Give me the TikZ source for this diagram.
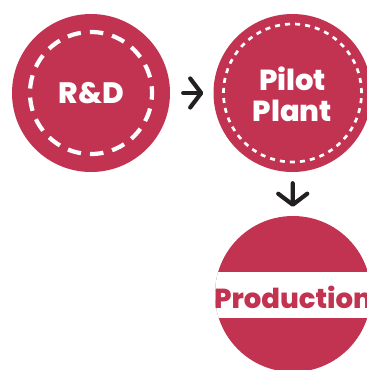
\documentclass[tikz,border=0pt]{standalone}
\usepackage{fontspec}
\setmainfont{Poppins}[BoldFont={Poppins ExtraBold}]
\usetikzlibrary{arrows.meta}
\definecolor{crimson}{HTML}{C23352}
\definecolor{arrowblack}{HTML}{231F20}
\tikzset{
  disc/.style={circle, fill=crimson, inner sep=0pt, minimum size=158pt},
  label/.style={text=white, font=\bfseries\fontsize{29.5}{31}\selectfont, align=center},
  flow/.style={draw=arrowblack, line width=4.2pt, line cap=round,
    -{Straight Barb[length=11pt,width=29pt,round]}},
}
\begin{document}
\begin{tikzpicture}[x=1pt,y=-1pt]
\useasboundingbox (0,0) rectangle (367,370);
% R&D
\node[disc] (rd) at (91,93) {};
\draw[white, line width=4.2pt, dash pattern=on 13.5pt off 9.05pt, dash phase=6.75pt] (rd.center) circle (61pt);
\node[label] (rdt) at (91.5,93) {R\&D};
% Pilot Plant
\node[disc] (pilot) at (292.5,93) {};
\draw[white, line width=2.7pt, dash pattern=on 5pt off 5.08pt] (pilot.center) circle (69pt);
\node[label, font=\bfseries\fontsize{29}{31}\selectfont] (pilott) at (292.5,94) {Pilot\\Plant};
% Production
\node[disc, minimum size=156pt] (prod) at (293,294) {};
\begin{scope}
  \clip (prod.center) circle (78pt);
  \fill[white] (200,272) rectangle (390,318);
\end{scope}
\node[text=crimson, font=\bfseries\fontsize{27.5}{27.5}\selectfont, inner sep=0pt, anchor=base] (prodt) at (293,308) {Production};
% connectors
\draw[flow, shorten <=13pt, shorten >=10pt] (rd) -- (pilot);
\draw[flow, shorten <=11pt, shorten >=9pt] (pilot) -- (prod);
\end{tikzpicture}
\end{document}
